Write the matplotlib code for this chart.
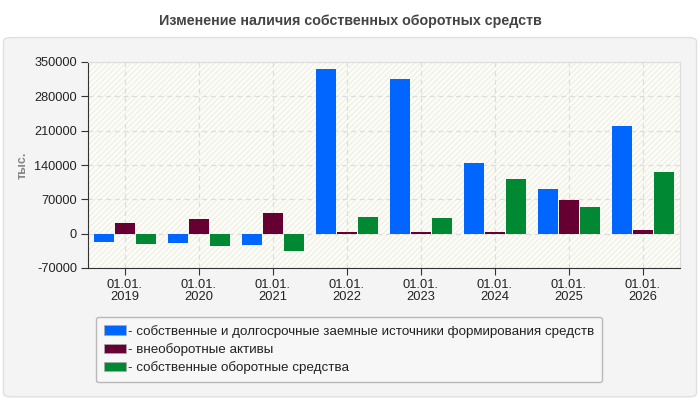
import matplotlib.pyplot as plt
import numpy as np
from matplotlib.patches import FancyBboxPatch, Rectangle, Patch

dates = ['01.01.\n2019', '01.01.\n2020', '01.01.\n2021', '01.01.\n2022',
         '01.01.\n2023', '01.01.\n2024', '01.01.\n2025', '01.01.\n2026']
sources = [-16000, -18500, -22500, 335000, 314500, 144500, 91500, 220500]
noncurrent = [22000, 30000, 42500, 3500, 3500, 3500, 69000, 7500]
working = [-20500, -24500, -35000, 34000, 32000, 112000, 54500, 126500]
labels = ['- собственные и долгосрочные заемные источники формирования средств',
          '- внеоборотные активы',
          '- собственные оборотные средства']
colors = ['#0066ff', '#660033', '#008833']
yticks = [-70000, 0, 70000, 140000, 210000, 280000, 350000]

plt.rcParams['font.family'] = ['Liberation Sans', 'DejaVu Sans']

fig = plt.figure(figsize=(7, 4), dpi=100)
fig.patch.set_facecolor('white')
panel = FancyBboxPatch((0.005, 0.008), 0.99, 0.898, boxstyle='round,pad=0,rounding_size=0.01',
                       transform=fig.transFigure, facecolor='#f4f4f4', edgecolor='#e0e0e0',
                       linewidth=1, zorder=-10)
fig.patches.append(panel)
fig.text(0.5, 0.948, 'Изменение наличия собственных оборотных средств', ha='center', va='center',
         fontsize=10.3, fontweight='bold', color='#444444')

ax = fig.add_axes([0.1257, 0.33, 0.8457, 0.515])
ax.set_facecolor('#fdfdf8')
ax.add_patch(Rectangle((0, 0), 1, 1, transform=ax.transAxes, facecolor='none',
                       edgecolor='#f0f0e8', hatch='//////', linewidth=0, zorder=0))

x = np.arange(len(dates))
w = 0.27
step = 0.285
for i, (vals, c) in enumerate(zip([sources, noncurrent, working], colors)):
    ax.bar(x + (i - 1) * step, vals, width=w, color=c, zorder=3)

ax.set_xlim(-0.5, len(dates) - 0.5)
ax.set_ylim(-70000, 350000)
ax.set_yticks(yticks)
ax.set_yticklabels([str(v) for v in yticks], fontsize=9.2, color='#222222')
ax.set_xticks(x)
ax.set_xticklabels(dates, fontsize=9.3, color='#222222', linespacing=1.0)
ax.grid(True, color='#dddddd', linestyle=(0, (4, 3)), linewidth=0.9, zorder=1)
ax.set_axisbelow(True)
for s in ['top', 'right']:
    ax.spines[s].set_color('#dddddd')
for s in ['left', 'bottom']:
    ax.spines[s].set_color('#333333')
ax.tick_params(axis='both', length=5, color='#333333', pad=3)
ax.set_ylabel('тыс.', fontsize=9, fontweight='bold', color='#888888', labelpad=4)

handles = [Patch(facecolor=c, edgecolor='#aaaaaa', linewidth=0.5) for c in colors]
leg = fig.legend(handles, labels, loc='upper left', bbox_to_anchor=(0.132, 0.218),
                 fontsize=9.6, frameon=True, fancybox=True, handlelength=1.6, handleheight=0.7,
                 handletextpad=0.15, labelspacing=0.4, borderpad=0.6, borderaxespad=0.3,
                 labelcolor='#222222')
leg.get_frame().set_facecolor('#f8f8f8')
leg.get_frame().set_edgecolor('#aaaaaa')

fig.savefig('out.png', dpi=100)
